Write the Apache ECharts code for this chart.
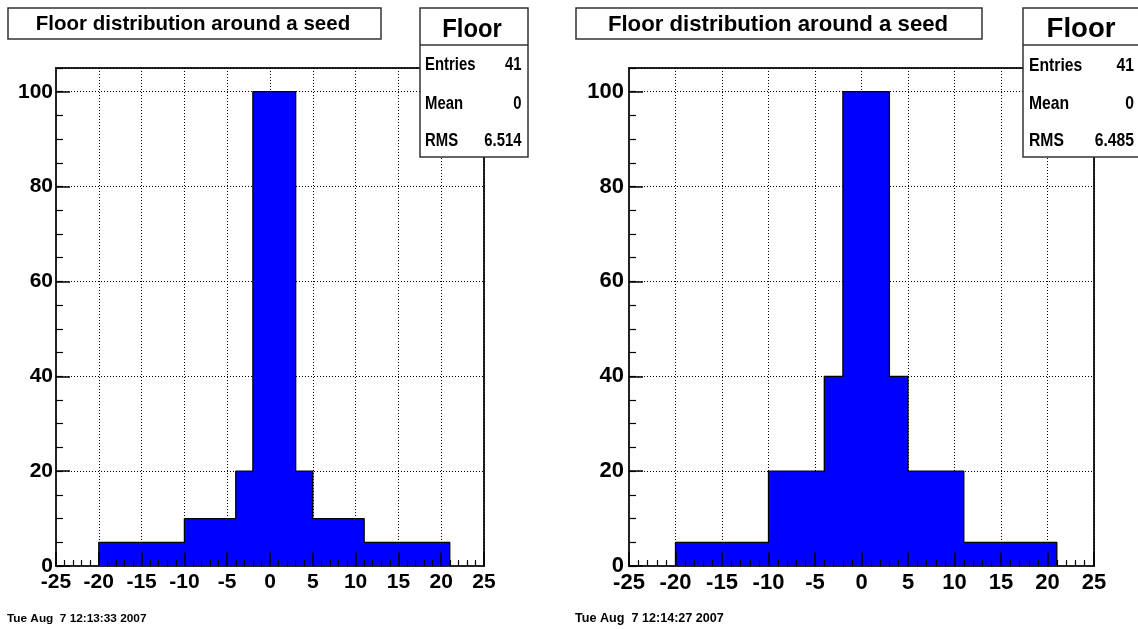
<!DOCTYPE html>
<html>
<head>
<meta charset="utf-8">
<script src="https://cdn.jsdelivr.net/npm/echarts@6/dist/echarts.min.js"></script>
<style>
html,body{margin:0;padding:0;background:#fff;}
#chart{width:1138px;height:629px;}
</style>
</head>
<body>
<div id="chart"></div>
<script>
// ---- data ----
var binLowEdges = [-20,-19,-18,-17,-16,-15,-14,-13,-12,-11,-10,-9,-8,-7,-6,-5,-4,-3,-2,-1,0,1,2,3,4,5,6,7,8,9,10,11,12,13,14,15,16,17,18,19,20];
var binWidth = 1;
var leftCounts  = [5,5,5,5,5,5,5,5,5,5, 10,10,10,10,10,10, 20,20, 100,100,100,100,100, 20,20, 10,10,10,10,10,10, 5,5,5,5,5,5,5,5,5,5];
var rightCounts = [5,5,5,5,5,5,5,5,5,5, 20,20,20,20,20,20, 40,40, 100,100,100,100,100, 40,40, 20,20,20,20,20,20, 5,5,5,5,5,5,5,5,5,5];
var titleText = 'Floor distribution around a seed';
var statsName = 'Floor';
var statsLabels = ['Entries', 'Mean', 'RMS'];
var leftStats  = ['41', '0', '6.514'];
var rightStats = ['41', '0', '6.485'];
var leftStamp  = 'Tue Aug  7 12:13:33 2007';
var rightStamp = 'Tue Aug  7 12:14:27 2007';
var xMin = -25, xMax = 25, xStep = 5;
var yMin = 0, yMax = 105, yStep = 20, yMinorStep = 5;

// ---- helpers ----
var REG = "'Liberation Sans', Arial, sans-serif";

function stepData(counts) {
  var d = [[binLowEdges[0], 0]];
  for (var i = 0; i < counts.length; i++) d.push([binLowEdges[i], counts[i]]);
  var last = binLowEdges[binLowEdges.length - 1] + binWidth;
  d.push([last, 0]);
  return d;
}

var panels = [
  {grid:{left:56, top:68, width:428, height:498}, counts:leftCounts, stats:leftStats, stamp:leftStamp,
   lab:21, ymargin:3, title:{x0:8, x1:381, cx:193, fs:20.5},
   box:{x:420, w:108, fs:26.5, fsx:0.9, cx:472, tx:425, vx:521.5, rfs:17.5, rsx:0.85, rows:[65.5, 104.5, 141]},
   stampX:7, stampFs:11.8},
  {grid:{left:629, top:68, width:465, height:498}, counts:rightCounts, stats:rightStats, stamp:rightStamp,
   lab:22, ymargin:5, title:{x0:576, x1:982, cx:778, fs:22.2},
   box:{x:1023, w:130, fs:28, fsx:0.985, cx:1081, tx:1029, vx:1134, rfs:18.5, rsx:0.85, rows:[66, 104, 140.5]},
   stampX:575, stampFs:12.6}
];

var grids = [], xAxes = [], yAxes = [], series = [], graphics = [];
var dotted = {color:'#000', width:1, type:[1,2]};
var axisLineStyle = {color:'#222', width:2};

panels.forEach(function(p, gi){
  grids.push(Object.assign({show:true, borderColor:'#222', borderWidth:2, backgroundColor:'#fff'}, p.grid));
  var xi = xAxes.length, yi = yAxes.length;
  // grid-line axes (under series)
  xAxes.push({type:'value', gridIndex:gi, min:xMin, max:xMax, interval:xStep, position:'top', z:0,
    axisLine:{show:false, onZero:false}, axisTick:{show:false}, axisLabel:{show:false}, splitLine:{show:true, lineStyle:dotted}});
  yAxes.push({type:'value', gridIndex:gi, min:yMin, max:yMax, interval:yStep, position:'right', z:0,
    axisLine:{show:false, onZero:false}, axisTick:{show:false}, axisLabel:{show:false}, splitLine:{show:true, lineStyle:dotted}});
  // tick/label axes (over series)
  xAxes.push({type:'value', gridIndex:gi, min:xMin, max:xMax, interval:xStep, position:'bottom', z:10,
    axisLine:{show:true, onZero:false, lineStyle:axisLineStyle},
    axisTick:{show:true, inside:true, length:14, lineStyle:{color:'#000', width:1.5}},
    minorTick:{show:true, splitNumber:5, length:6, lineStyle:{color:'#000', width:1.2}},
    splitLine:{show:false},
    axisLabel:{show:true, margin:6, color:'#000', fontWeight:'bold', fontSize:p.lab, fontFamily:REG,
      showMinLabel:true, showMaxLabel:true}});
  yAxes.push({type:'value', gridIndex:gi, min:yMin, max:yMax, interval:yStep, position:'left', z:10,
    axisLine:{show:true, onZero:false, lineStyle:axisLineStyle},
    axisTick:{show:true, inside:true, length:14, lineStyle:{color:'#000', width:1.5}},
    splitLine:{show:false},
    axisLabel:{show:true, margin:p.ymargin, color:'#000', fontWeight:'bold', fontSize:p.lab, fontFamily:REG,
      padding:[7,0,0,0], showMaxLabel:false,
      formatter:function(v){ return (v % yStep === 0) ? String(v) : ''; }}});
  // minor y ticks
  yAxes.push({type:'value', gridIndex:gi, min:yMin, max:yMax, interval:yMinorStep, position:'left', z:10,
    axisLine:{show:false, onZero:false}, axisTick:{show:true, inside:true, length:7, lineStyle:{color:'#000', width:1.2}},
    axisLabel:{show:false}, splitLine:{show:false}});

  series.push({type:'line', xAxisIndex:xi, yAxisIndex:yi, step:'end', symbol:'none', z:2,
    data:stepData(p.counts), animation:false,
    lineStyle:{color:'#000', width:1.3},
    areaStyle:{color:'#0000ff', opacity:1}});

  // title box
  graphics.push({type:'rect', z:100, shape:{x:p.title.x0, y:8, width:p.title.x1 - p.title.x0, height:31},
    style:{fill:'#fff', stroke:'#333', lineWidth:1.5}});
  graphics.push({type:'text', z:101, x:p.title.cx, y:24.5,
    style:{text:titleText, fill:'#000', font:'bold ' + p.title.fs + 'px ' + REG, textAlign:'center', textVerticalAlign:'middle'}});
  // stats box
  var b = p.box;
  graphics.push({type:'rect', z:100, shape:{x:b.x, y:8, width:b.w, height:149},
    style:{fill:'#fff', stroke:'#333', lineWidth:1.5}});
  graphics.push({type:'line', z:101, shape:{x1:b.x, y1:45, x2:b.x + b.w, y2:45},
    style:{stroke:'#333', lineWidth:1.5}});
  graphics.push({type:'text', z:101, x:b.cx, y:29.5, scaleX:b.fsx,
    style:{text:statsName, fill:'#000', font:'bold ' + b.fs + 'px ' + REG, textAlign:'center', textVerticalAlign:'middle'}});
  statsLabels.forEach(function(lbl, k){
    graphics.push({type:'text', z:101, x:b.tx, y:b.rows[k], scaleX:b.rsx,
      style:{text:lbl, fill:'#000', font:'bold ' + b.rfs + 'px ' + REG, textAlign:'left', textVerticalAlign:'middle'}});
    graphics.push({type:'text', z:101, x:b.vx, y:b.rows[k], scaleX:b.rsx,
      style:{text:p.stats[k], fill:'#000', font:'bold ' + b.rfs + 'px ' + REG, textAlign:'right', textVerticalAlign:'middle'}});
  });
  // timestamp
  graphics.push({type:'text', z:101, x:p.stampX, y:618.5,
    style:{text:p.stamp, fill:'#000', font:'bold ' + p.stampFs + 'px ' + REG, textAlign:'left', textVerticalAlign:'middle'}});
});

var chart = echarts.init(document.getElementById('chart'), null, {renderer:'canvas'});
chart.setOption({
  backgroundColor:'#fff',
  animation:false,
  grid:grids,
  xAxis:xAxes,
  yAxis:yAxes,
  series:series,
  graphic:graphics
});
</script>
</body>
</html>
